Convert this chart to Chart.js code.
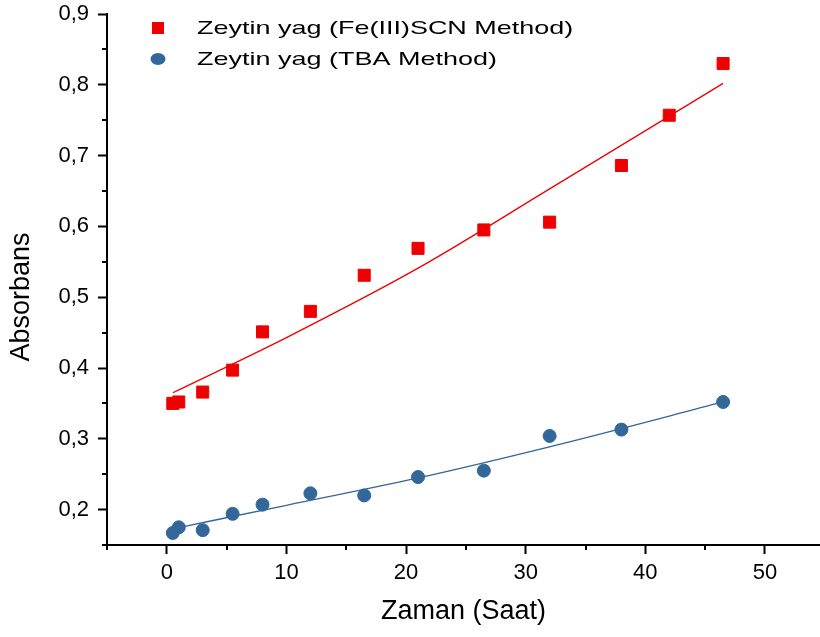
<!DOCTYPE html>
<html>
<head>
<meta charset="utf-8">
<script src="https://cdn.jsdelivr.net/npm/chart.js@4/dist/chart.umd.min.js"></script>
<style>
  body { margin: 0; background: #fff; }
  #wrap { width: 820px; height: 637px; }
</style>
</head>
<body>
<div id="wrap"><canvas id="myChart" width="820" height="637"></canvas></div>
<script>
// measured points (hours vs absorbance)
var hours = [0.5, 1, 3, 5.5, 8, 12, 16.5, 21, 26.5, 32, 38, 42, 46.5];
var feValues = [0.350, 0.352, 0.366, 0.397, 0.451, 0.480, 0.531, 0.569, 0.595, 0.606, 0.686, 0.757, 0.830];
var tbaHours = [0.5, 1, 3, 5.5, 8, 12, 16.5, 21, 26.5, 32, 38, 46.5];
var tbaValues = [0.167, 0.175, 0.171, 0.194, 0.207, 0.223, 0.220, 0.246, 0.255, 0.304, 0.313, 0.352];

// fitted curves
var feFitHours = [0.5, 10, 21, 32, 46.5];
var feFitValues = [0.365, 0.443, 0.541, 0.653, 0.802];
var tbaFitHours = [1.1, 10, 20.8, 33, 46.5];
var tbaFitValues = [0.175, 0.206, 0.244, 0.293, 0.352];

var xTicks = [-5, 0, 5, 10, 15, 20, 25, 30, 35, 40, 45, 50];
var yTicks = [0.15, 0.2, 0.25, 0.3, 0.35, 0.4, 0.45, 0.5, 0.55, 0.6, 0.65, 0.7, 0.75, 0.8, 0.85, 0.9];

var labelFe = "Zeytin yag (Fe(III)SCN Method)";
var labelTba = "Zeytin yag (TBA Method)";
var yTitle = "Absorbans";

var RED = "#ee0000";
var BLUE = "#336699";
var FONT = "'Liberation Sans', Arial, sans-serif";

Chart.defaults.font.family = FONT;
Chart.defaults.color = "#000";

function toPoints(xs, ys) {
  return xs.map(function (x, i) { return { x: x, y: ys[i] }; });
}
function isMajorX(v) { return v % 10 === 0; }
function isMajorY(v) { return Math.round(v * 100) % 10 === 0; }

// short minor ticks, drawn outside the plot
var minorTicks = {
  id: "minorTicks",
  afterDraw: function (chart) {
    var ctx = chart.ctx, area = chart.chartArea;
    var xs = chart.scales.x, ys = chart.scales.y;
    ctx.save();
    ctx.strokeStyle = "#000";
    ctx.lineWidth = 2;
    ctx.beginPath();
    xTicks.forEach(function (v) {
      if (isMajorX(v)) return;
      var px = Math.round(xs.getPixelForValue(v));
      ctx.moveTo(px, area.bottom);
      ctx.lineTo(px, area.bottom + 5);
    });
    yTicks.forEach(function (v) {
      if (isMajorY(v)) return;
      var py = Math.round(ys.getPixelForValue(v));
      ctx.moveTo(area.left, py);
      ctx.lineTo(area.left - 5, py);
    });
    ctx.stroke();
    ctx.restore();
  }
};

// legend in the top-left corner + y title (sits a bit low, like the original)
var cornerLegend = {
  id: "cornerLegend",
  afterDraw: function (chart) {
    var ctx = chart.ctx, area = chart.chartArea;
    var mx = area.left + 51, tx = area.left + 90;
    var y1 = area.top + 14, y2 = area.top + 45;
    ctx.save();
    ctx.fillStyle = RED;
    ctx.fillRect(mx - 6, y1 - 6, 12, 12);
    ctx.fillStyle = BLUE;
    ctx.beginPath();
    ctx.ellipse(mx, y2, 7.5, 6, 0, 0, Math.PI * 2);
    ctx.fill();

    ctx.fillStyle = "#000";
    ctx.font = "19px " + FONT;
    ctx.textBaseline = "middle";
    ctx.save();
    ctx.translate(tx, 0);
    ctx.scale(1.42, 1);
    ctx.fillText(labelFe, 0, y1 + 1);
    ctx.fillText(labelTba, 0, y2 + 1);
    ctx.restore();

    ctx.save();
    ctx.translate(22, 297);
    ctx.rotate(-Math.PI / 2);
    ctx.font = "27px " + FONT;
    ctx.textAlign = "center";
    ctx.fillText(yTitle, 0, 0);
    ctx.restore();
    ctx.restore();
  }
};

var data = {
  datasets: [
    {
      label: labelFe,
      data: toPoints(hours, feValues),
      pointStyle: "rect",
      pointRadius: 8.5,
      pointHoverRadius: 8.5,
      backgroundColor: RED,
      borderColor: RED,
      borderWidth: 1,
      order: 1
    },
    {
      label: labelTba,
      data: toPoints(tbaHours, tbaValues),
      pointStyle: "circle",
      pointRadius: 6.5,
      pointHoverRadius: 6.5,
      backgroundColor: BLUE,
      borderColor: BLUE,
      borderWidth: 1,
      order: 1
    },
    {
      label: "fit Fe",
      data: toPoints(feFitHours, feFitValues),
      showLine: true,
      pointRadius: 0,
      borderColor: RED,
      borderWidth: 1.3,
      cubicInterpolationMode: "monotone",
      order: 2
    },
    {
      label: "fit TBA",
      data: toPoints(tbaFitHours, tbaFitValues),
      showLine: true,
      pointRadius: 0,
      borderColor: BLUE,
      borderWidth: 1.3,
      cubicInterpolationMode: "monotone",
      order: 2
    }
  ]
};

var options = {
  responsive: false,
  maintainAspectRatio: false,
  animation: false,
  layout: { autoPadding: false, padding: { top: 14, right: 0, bottom: 0, left: 0 } },
  plugins: {
    legend: { display: false },
    tooltip: { enabled: false }
  },
  scales: {
    x: {
      type: "linear",
      min: -5,
      max: 54.6,
      afterBuildTicks: function (s) {
        s.ticks = xTicks.map(function (v) { return { value: v }; });
      },
      afterFit: function (s) {
        s.height = 92;
        s.paddingLeft = 0;
        s.paddingRight = 0;
      },
      ticks: {
        autoSkip: false,
        maxRotation: 0,
        padding: 6,
        font: { size: 22 },
        callback: function (v) { return isMajorX(v) ? String(v) : ""; }
      },
      grid: {
        drawOnChartArea: false,
        tickLength: 9,
        tickWidth: 2,
        tickColor: function (c) {
          return c.tick && isMajorX(c.tick.value) ? "#000" : "rgba(0,0,0,0)";
        }
      },
      border: { color: "#000", width: 2 },
      title: {
        display: true,
        text: "Zaman (Saat)",
        font: { size: 27 },
        padding: { top: 0, bottom: 9 }
      }
    },
    y: {
      type: "linear",
      min: 0.15,
      max: 0.9,
      afterBuildTicks: function (s) {
        s.ticks = yTicks.map(function (v) { return { value: v }; });
      },
      afterFit: function (s) {
        s.width = 107;
        s.paddingTop = 0;
        s.paddingBottom = 0;
      },
      ticks: {
        autoSkip: false,
        padding: 9,
        font: { size: 22 },
        callback: function (v) {
          return isMajorY(v) ? v.toFixed(1).replace(".", ",") : "";
        }
      },
      grid: {
        drawOnChartArea: false,
        tickLength: 9,
        tickWidth: 2,
        tickColor: function (c) {
          return c.tick && isMajorY(c.tick.value) ? "#000" : "rgba(0,0,0,0)";
        }
      },
      border: { color: "#000", width: 2 }
    }
  }
};

var myChart = new Chart(document.getElementById("myChart").getContext("2d"), {
  type: "scatter",
  data: data,
  options: options,
  plugins: [minorTicks, cornerLegend]
});
</script>
</body>
</html>
